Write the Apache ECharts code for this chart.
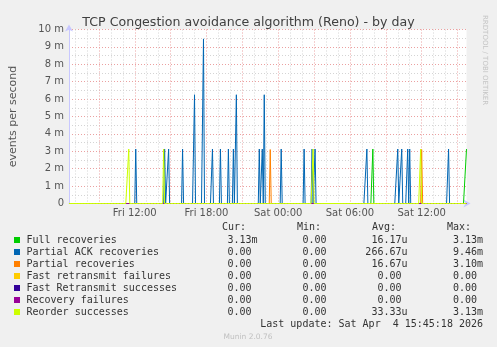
<!DOCTYPE html>
<html><head><meta charset="utf-8">
<script src="https://cdn.jsdelivr.net/npm/echarts@6/dist/echarts.min.js"></script>
<style>html,body{margin:0;padding:0;background:#f0f0f0}#c{width:497px;height:347px}</style>
</head><body><div id="c"></div>
<script>
// ---- data (values in milli-events per second) ----
const seriesNames = ['Full recoveries','Partial ACK recoveries','Partial recoveries','Fast retransmit failures','Fast Retransmit successes','Recovery failures','Reorder successes'];
const seriesColors = ['#00cc00','#0066b3','#ff8000','#ffcc00','#330099','#990099','#ccff00'];
// spikes: [sample time, value]; all other samples are 0
const fullRecoveries = [['Sat 07:55',3.13],['Sat 15:45',3.13]];
const partialAckRecoveries = [['Fri 12:05',3.13],['Fri 14:30',3.13],['Fri 14:50',3.13],['Fri 16:00',3.13],['Fri 17:00',6.25],['Fri 17:45',9.46],['Fri 18:30',3.13],['Fri 19:10',3.13],['Fri 19:50',3.13],['Fri 20:15',3.13],['Fri 20:30',6.25],['Fri 22:25',3.13],['Fri 22:40',3.13],['Fri 22:50',6.25],['Sat 00:15',3.13],['Sat 02:10',3.13],['Sat 02:50',3.13],['Sat 03:05',3.13],['Sat 07:25',3.13],['Sat 10:00',3.13],['Sat 10:20',3.13],['Sat 10:50',3.13],['Sat 11:00',3.13],['Sat 14:15',3.13]];
const partialRecoveries = [['Fri 23:20',3.10],['Sat 12:00',3.10]];
const fastRetransmitFailures = [];
const fastRetransmitSuccesses = [];
const recoveryFailures = [];
const reorderSuccesses = [['Fri 11:30',3.13],['Fri 14:25',3.13],['Sat 02:55',3.13],['Sat 11:55',3.13]];
const spikeLists = [fullRecoveries,partialAckRecoveries,partialRecoveries,fastRetransmitFailures,fastRetransmitSuccesses,recoveryFailures,reorderSuccesses];

const legendCur = ['3.13m','0.00','0.00','0.00','0.00','0.00','0.00'];
const legendMin = ['0.00','0.00','0.00','0.00','0.00','0.00','0.00'];
const legendAvg = ['16.17u','266.67u','16.67u','0.00','0.00','0.00','33.33u'];
const legendMax = ['3.13m','9.46m','3.10m','0.00','0.00','0.00','3.13m'];
const yTickValues = [0,1,2,3,4,5,6,7,8,9,10];
const xLabelTimes = ['Fri 12:00','Fri 18:00','Sat 00:00','Sat 06:00','Sat 12:00'];
const startMinute = 6*60+30;   // Fri 06:30
const sampleCount = 400;       // 5-minute samples to Sat 15:45

// ---- build categories (5-minute sample times) ----
const days = ['Fri','Sat'];
const pad = n => (n<10?'0':'')+n;
const categories = [];
for (let i=0;i<sampleCount;i++){
  const m = startMinute + i*5;
  const d = Math.floor(m/1440), h = Math.floor((m%1440)/60), mm = m%60;
  categories.push(days[d]+' '+pad(h)+':'+pad(mm));
}
function buildSeries(spikes){
  const arr = categories.map(()=>0);
  spikes.forEach(([t,v])=>{ const k = categories.indexOf(t); if(k>=0) arr[k]=v; });
  return arr;
}
const hourOf = v => parseInt(v.slice(4,6),10);
const minOf = v => parseInt(v.slice(7,9),10);

const chart = echarts.init(document.getElementById('c'), null, {renderer:'canvas'});
const FONT = 'DejaVu Sans';
const MONO = 'DejaVu Sans Mono';

const graphics = [];
graphics.push({type:'text', x:485, y:15, rotation:-Math.PI/2, style:{text:'RRDTOOL / TOBI OETIKER', fill:'#c4c4c4', font:'7px '+FONT, textAlign:'left', textVerticalAlign:'middle'}});
const hdrY = 227;
[['Cur:',222],['Min:',297],['Avg:',372],['Max:',447]].forEach(([t,x])=>{
  graphics.push({type:'text', x:x, y:hdrY, style:{text:t, fill:'#333', font:'10px '+MONO, textAlign:'left', textVerticalAlign:'middle'}});
});
const colRight = [257.5, 332.5, 407.5, 483];
seriesNames.forEach((name,i)=>{
  const y = 240 + i*12;
  graphics.push({type:'rect', shape:{x:14,y:y-3,width:6,height:6}, style:{fill:seriesColors[i]}});
  graphics.push({type:'text', x:26.5, y:y, style:{text:name, fill:'#333', font:'10px '+MONO, textAlign:'left', textVerticalAlign:'middle'}});
  [legendCur[i],legendMin[i],legendAvg[i],legendMax[i]].forEach((v,c)=>{
    const hasUnit = /[a-z]$/i.test(v);
    graphics.push({type:'text', x:colRight[c]-(hasUnit?0:6), y:y, style:{text:v, fill:'#333', font:'10px '+MONO, textAlign:'right', textVerticalAlign:'middle'}});
  });
});
graphics.push({type:'text', x:483, y:324, style:{text:'Last update: Sat Apr  4 15:45:18 2026', fill:'#333', font:'10px '+MONO, textAlign:'right', textVerticalAlign:'middle'}});
graphics.push({type:'text', x:248, y:337, style:{text:'Munin 2.0.76', fill:'#c0c0c0', font:'7.5px '+FONT, textAlign:'center', textVerticalAlign:'middle'}});

const option = {
  animation:false,
  backgroundColor:'#f0f0f0',
  title:{text:'TCP Congestion avoidance algorithm (Reno) - by day', left:'center', top:11,
    textStyle:{fontFamily:FONT, fontSize:12.6, fontWeight:'normal', color:'#404040'}},
  grid:{left:66.5, right:30.5, top:29.5, bottom:143.5, show:true, backgroundColor:'#ffffff', borderWidth:0},
  xAxis:[{
    type:'category', data:categories, boundaryGap:false,
    axisLine:{show:true, lineStyle:{color:'#c8c8ff', width:1}, symbol:['none','arrow'], symbolSize:[6,7], symbolOffset:[0,4]},
    axisTick:{show:false},
    axisLabel:{interval:(i,v)=>xLabelTimes.indexOf(v)>=0, color:'#555', fontFamily:FONT, fontSize:10, margin:5},
    splitLine:{show:true, interval:(i,v)=>minOf(v)===0 && hourOf(v)%3===0, lineStyle:{color:'#eba0a0', type:[1,2], width:1}}
  },{
    type:'category', data:categories, boundaryGap:false, position:'bottom',
    axisLine:{show:false}, axisTick:{show:false}, axisLabel:{show:false},
    splitLine:{show:true, interval:(i,v)=>minOf(v)===0 && hourOf(v)%3!==0, lineStyle:{color:'#d4d4d4', type:[1,2], width:1}}
  }],
  yAxis:{
    type:'value', min:yTickValues[0], max:yTickValues[yTickValues.length-1], interval:1,
    name:'events per second', nameLocation:'middle', nameGap:50,
    nameTextStyle:{fontFamily:FONT, fontSize:11, color:'#555'},
    axisLine:{show:true, lineStyle:{color:'#c8c8ff', width:1}, symbol:['none','arrow'], symbolSize:[6,7], symbolOffset:[0,5]},
    axisTick:{show:false},
    axisLabel:{formatter:v=>v===0?'0':(v+' m'), color:'#555', fontFamily:FONT, fontSize:10, margin:5},
    splitLine:{show:true, lineStyle:{color:'#eba0a0', type:[1,2], width:1}},
    minorTick:{show:false, splitNumber:2},
    minorSplitLine:{show:true, lineStyle:{color:'#d4d4d4', type:[1,2], width:1}}
  },
  series: seriesNames.map((n,i)=>({
    name:n, type:'line', xAxisIndex:0, data:buildSeries(spikeLists[i]),
    symbol:'none', showSymbol:false, lineStyle:{width:1, color:seriesColors[i]}, itemStyle:{color:seriesColors[i]}
  })),
  graphic:graphics
};
chart.setOption(option);
</script></body></html>
